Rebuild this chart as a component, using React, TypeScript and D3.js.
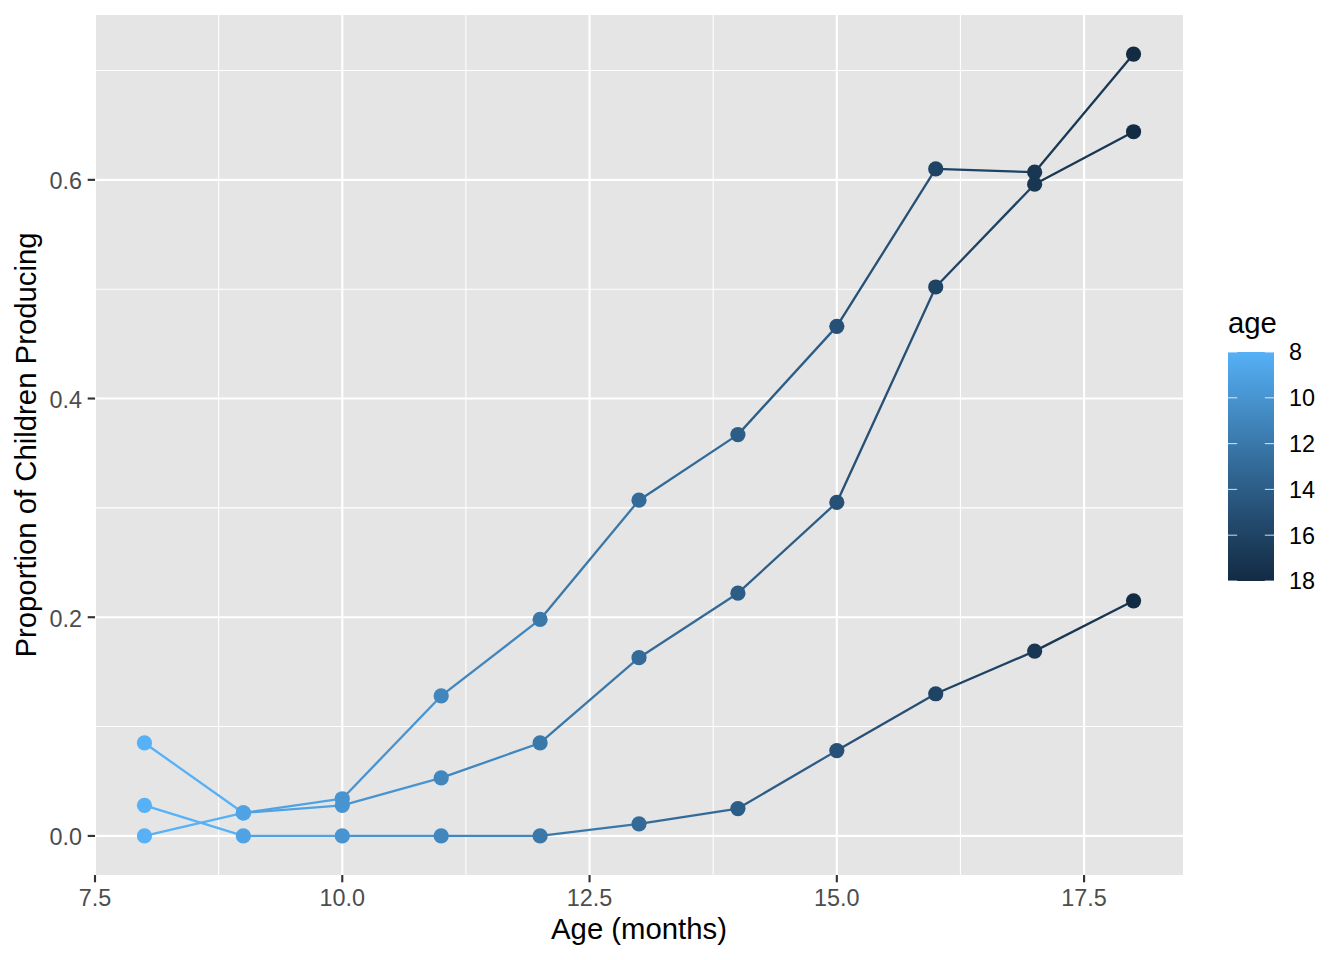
import React from "react";
import * as d3 from "d3";

const ages = [8, 9, 10, 11, 12, 13, 14, 15, 16, 17, 18];
const seriesA = [0.085, 0.021, 0.034, 0.128, 0.198, 0.307, 0.367, 0.466, 0.61, 0.607, 0.715];
const seriesB = [0.0, 0.021, 0.028, 0.053, 0.085, 0.163, 0.222, 0.305, 0.502, 0.596, 0.644];
const seriesC = [0.028, 0.0, 0.0, 0.0, 0.0, 0.011, 0.025, 0.078, 0.13, 0.169, 0.215];
const allSeries = [seriesA, seriesB, seriesC];
const xTicks = [7.5, 10, 12.5, 15, 17.5];
const xMinor = [8.75, 11.25, 13.75, 16.25];
const yTicks = [0, 0.2, 0.4, 0.6];
const yMinor = [0.1, 0.3, 0.5, 0.7];
const legendTicks = [8, 10, 12, 14, 16, 18];

const W = 1344, H = 960;
const panel = { left: 95, right: 1183, top: 15, bottom: 875 };

export default function App() {
  const x = d3.scaleLinear().domain([7.5, 18.5]).range([panel.left, panel.right]);
  const yMax = 0.715;
  const pad = yMax * 0.05;
  const y = d3.scaleLinear().domain([-pad, yMax + pad]).range([panel.bottom, panel.top]);
  const color = d3.scaleLinear<string>().domain([8, 18]).range(["#56B1F7", "#132B43"]).interpolate(d3.interpolateLab);

  const bar = { x: 1228, w: 46, top: 352, bottom: 581 };
  const ly = d3.scaleLinear().domain([8, 18]).range([bar.top, bar.bottom]);
  const stops = d3.range(0, 21).map((i) => 8 + i * 0.5);

  const font = "'Liberation Sans', Arial, Helvetica, sans-serif";
  const tickFs = 23.4;
  const titleFs = 29.3;

  return (
    <svg width={W} height={H} style={{ position: "absolute", left: 0, top: 0, fontFamily: font }}>
      <defs>
        <linearGradient id="cbar" x1="0" y1="0" x2="0" y2="1">
          {stops.map((s) => (
            <stop key={s} offset={(s - 8) / 10} stopColor={color(s)} />
          ))}
        </linearGradient>
      </defs>
      <rect x={0} y={0} width={W} height={H} fill="#FFFFFF" />
      <rect x={panel.left} y={panel.top} width={panel.right - panel.left} height={panel.bottom - panel.top} fill="#E5E5E5" />
      {xMinor.map((t) => (
        <line key={"xm" + t} x1={x(t)} x2={x(t)} y1={panel.top} y2={panel.bottom} stroke="#FFFFFF" strokeWidth={1.07} />
      ))}
      {yMinor.map((t) => (
        <line key={"ym" + t} x1={panel.left} x2={panel.right} y1={y(t)} y2={y(t)} stroke="#FFFFFF" strokeWidth={1.07} />
      ))}
      {xTicks.map((t) => (
        <line key={"xM" + t} x1={x(t)} x2={x(t)} y1={panel.top} y2={panel.bottom} stroke="#FFFFFF" strokeWidth={2.13} />
      ))}
      {yTicks.map((t) => (
        <line key={"yM" + t} x1={panel.left} x2={panel.right} y1={y(t)} y2={y(t)} stroke="#FFFFFF" strokeWidth={2.13} />
      ))}
      {allSeries.map((s, si) =>
        s.slice(0, -1).map((v, i) => (
          <line
            key={"seg" + si + "-" + i}
            x1={x(ages[i])}
            y1={y(v)}
            x2={x(ages[i + 1])}
            y2={y(s[i + 1])}
            stroke={color(ages[i])}
            strokeWidth={2.3}
            strokeLinecap="butt"
          />
        ))
      )}
      {allSeries.map((s, si) =>
        s.map((v, i) => (
          <circle key={"pt" + si + "-" + i} cx={x(ages[i])} cy={y(v)} r={7.6} fill={color(ages[i])} />
        ))
      )}
      {/* x axis */}
      {xTicks.map((t) => (
        <g key={"xt" + t}>
          <line x1={x(t)} x2={x(t)} y1={panel.bottom} y2={panel.bottom + 7.3} stroke="#333333" strokeWidth={2.13} />
          <text x={x(t)} y={906} textAnchor="middle" fontSize={tickFs} fill="#4D4D4D">
            {t.toFixed(1)}
          </text>
        </g>
      ))}
      {yTicks.map((t) => (
        <g key={"yt" + t}>
          <line x1={panel.left - 7.3} x2={panel.left} y1={y(t)} y2={y(t)} stroke="#333333" strokeWidth={2.13} />
          <text x={82} y={y(t)} dy="0.4em" textAnchor="end" fontSize={tickFs} fill="#4D4D4D">
            {t.toFixed(1)}
          </text>
        </g>
      ))}
      <text x={(panel.left + panel.right) / 2} y={939} textAnchor="middle" fontSize={titleFs} fill="#000000">
        Age (months)
      </text>
      <text
        transform={`translate(36, ${(panel.top + panel.bottom) / 2}) rotate(-90)`}
        textAnchor="middle"
        fontSize={titleFs}
        fill="#000000"
      >
        Proportion of Children Producing
      </text>
      {/* legend */}
      <text x={bar.x} y={333} fontSize={titleFs} fill="#000000">
        age
      </text>
      <rect x={bar.x} y={bar.top} width={bar.w} height={bar.bottom - bar.top} fill="url(#cbar)" />
      {legendTicks.map((t) => (
        <g key={"lt" + t}>
          <line x1={bar.x} x2={bar.x + 9.2} y1={ly(t)} y2={ly(t)} stroke="#FFFFFF" strokeWidth={1.1} opacity={0.75} />
          <line x1={bar.x + bar.w - 9.2} x2={bar.x + bar.w} y1={ly(t)} y2={ly(t)} stroke="#FFFFFF" strokeWidth={1.1} opacity={0.75} />
          <text x={1289} y={ly(t)} dy="0.36em" fontSize={tickFs} fill="#000000">
            {t}
          </text>
        </g>
      ))}
    </svg>
  );
}
